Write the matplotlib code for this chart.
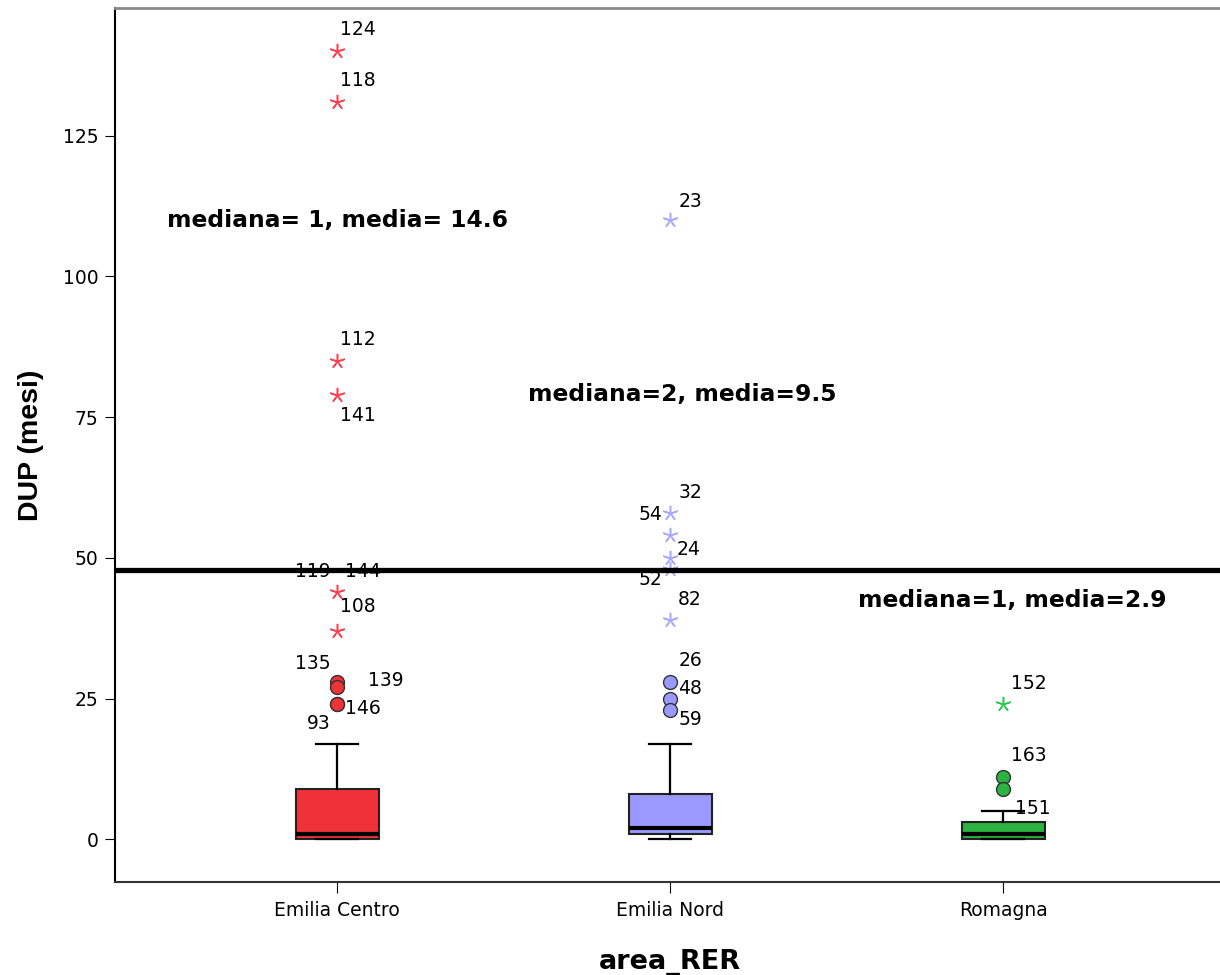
import numpy as np
import matplotlib.pyplot as plt

plt.rcParams['font.family'] = ['DejaVu Sans']

# dati
aree = ["Emilia Centro", "Emilia Nord", "Romagna"]
q1 = [0, 1, 0]
mediana = [1, 2, 1]
q3 = [9, 8, 3]
wh_lo = [0, 0, 0]
wh_hi = [17, 17, 5]
colori = ["#EE3238", "#9999FF", "#2BB240"]
colori_stella = ["#FF4050", "#A8A8FF", "#30C850"]

# outlier (cerchi) e valori estremi (stelle): (area, valore)
outlier_val = [(0, 28), (0, 27), (0, 24), (0, 24),
               (1, 28), (1, 25), (1, 23),
               (2, 11), (2, 9)]
estremi_val = [(0, 140), (0, 131), (0, 85), (0, 79), (0, 44), (0, 37),
               (1, 110), (1, 58), (1, 54), (1, 50), (1, 48), (1, 39),
               (2, 24)]

# etichette dei casi: (area, valore, id)
etichette = [(0, 140, "124"), (0, 131, "118"), (0, 85, "112"), (0, 79, "141"),
             (0, 44, "119"), (0, 44, "144"), (0, 37, "108"),
             (0, 28, "135"), (0, 27, "139"), (0, 24, "146"), (0, 24, "93"),
             (1, 110, "23"), (1, 58, "32"), (1, 58, "54"), (1, 50, "24"),
             (1, 48, "52"), (1, 39, "82"), (1, 28, "26"), (1, 25, "48"), (1, 23, "59"),
             (2, 24, "152"), (2, 11, "163"), (2, 5, "151")]
# spostamento etichette in pixel (dx, dy verso l'alto, allineamento)
offs = [(3, 22, "left"), (3, 21, "left"), (3, 21, "left"), (3, -21, "left"),
        (-7, 20, "right"), (8, 20, "left"), (3, 24, "left"),
        (-7, 18, "right"), (31, 7, "left"), (8, -4, "left"), (-7, -19, "right"),
        (8, 19, "left"), (8, 20, "left"), (-8, -2, "right"), (6, 8, "left"),
        (-8, -10, "right"), (8, 20, "left"), (8, 21, "left"), (8, 10, "left"), (8, -10, "left"),
        (8, 21, "left"), (8, 22, "left"), (12, 3, "left")]

testi = ["mediana= 1, media= 14.6", "mediana=2, media=9.5", "mediana=1, media=2.9"]
testi_pos = [(0.489, 110), (1.573, 79), (2.564, 42.5)]
linea_y = 47.8

fig = plt.figure(figsize=(12.2, 9.75), dpi=100)
ax = fig.add_axes([0.0943, 0.0954, 0.91, 0.8964])

pos = np.arange(1, 4)
stats = []
for i in range(3):
    stats.append(dict(q1=q1[i], med=mediana[i], q3=q3[i], whislo=wh_lo[i], whishi=wh_hi[i], fliers=[]))

bp = ax.bxp(stats, positions=pos, widths=0.25, patch_artist=True, showfliers=False,
            boxprops=dict(linewidth=1.5, edgecolor="#222222"),
            medianprops=dict(color="black", linewidth=3),
            whiskerprops=dict(color="black", linewidth=1.6),
            capprops=dict(color="black", linewidth=1.6), capwidths=0.125)
for p, c in zip(bp["boxes"], colori):
    p.set_facecolor(c)

for g, v in outlier_val:
    ax.plot(pos[g], v, "o", ms=10, mfc=colori[g], mec="#333333", mew=1, zorder=4)
for g, v in estremi_val:
    ax.plot(pos[g], v, marker=(5, 2, 0), ms=11, color=colori_stella[g], mew=1.1, ls="none", zorder=4)

for (g, v, t), (dx, dy, al) in zip(etichette, offs):
    ax.annotate(t, (pos[g], v), xytext=(dx * 0.72, dy * 0.72), textcoords="offset points",
                fontsize=13.5, ha=al, va="center", color="black", zorder=5)

ax.axhline(linea_y, color="black", linewidth=3.8, zorder=6)

for t, (x, y) in zip(testi, testi_pos):
    ax.text(x, y, t, fontsize=16.8, fontweight="bold", ha="left", va="center")

ax.set_xlim(0.333, 3.667)
ax.set_ylim(-7.6, 147.7)
ax.set_xticks(pos)
ax.set_xticklabels(aree, fontsize=13.5)
ax.set_yticks([0, 25, 50, 75, 100, 125])
ax.tick_params(axis="y", labelsize=13.5, length=7, direction="out", pad=5)
ax.tick_params(axis="x", length=8, direction="out", pad=6)
ax.set_ylabel("DUP (mesi)", fontsize=20.5, fontweight="bold",
              family=["Liberation Sans", "DejaVu Sans"])
ax.yaxis.set_label_coords(-0.064, 0.5)
ax.set_xlabel("area_RER", fontsize=19.5, fontweight="bold", labelpad=20.5)

ax.spines["top"].set_color("#888888")
ax.spines["top"].set_linewidth(2)
ax.spines["right"].set_visible(False)
ax.spines["left"].set_linewidth(1.5)
ax.spines["bottom"].set_linewidth(1.5)
ax.spines["bottom"].set_color("#333333")

fig.savefig("out.png", dpi=100)
